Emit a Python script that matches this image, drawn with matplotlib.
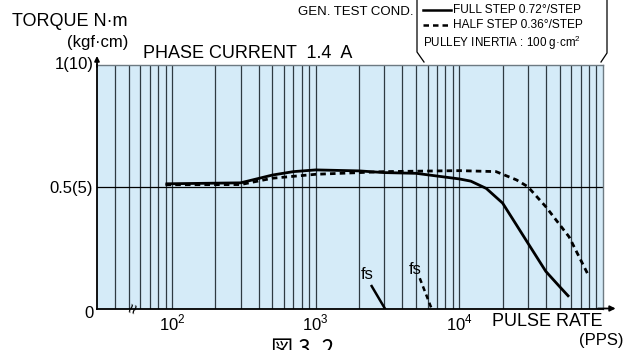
import matplotlib
matplotlib.use("Agg")
import matplotlib.pyplot as plt
from matplotlib.lines import Line2D

# data
full_f = [90, 300, 500, 700, 1000, 2000, 3000, 5000, 10000, 12000, 15400,
          20000, 25000, 30000, 40000, 50000, 58000]
full_t = [0.511, 0.515, 0.547, 0.561, 0.568, 0.564, 0.557, 0.554, 0.531, 0.522,
          0.492, 0.432, 0.342, 0.268, 0.152, 0.089, 0.048]

half_f = [90, 300, 500, 1000, 2000, 3000, 10000, 18000, 25000, 30000, 40000,
          58000, 79000]
half_t = [0.507, 0.508, 0.534, 0.550, 0.557, 0.561, 0.565, 0.561, 0.527,
          0.499, 0.417, 0.294, 0.137]

fs_full_f = [2450, 3030]
fs_full_t = [0.092, 0.0]
fs_half_f = [5300, 6400]
fs_half_t = [0.124, 0.0]

grid_f = [m * 10 ** e for e in range(1, 5) for m in range(1, 10)]
grid_f = [g for g in grid_f if 30 < g < 100000]
xtick_vals = [100, 1000, 10000]
xtick_labels = ["$10^2$", "$10^3$", "$10^4$"]

W, H = 629, 350


def fx(x):
    return x / W


def fy(y):
    return 1 - y / H


plt.rcParams["font.family"] = ["Liberation Sans", "DejaVu Sans"]
plt.rcParams["mathtext.fontset"] = "custom"
plt.rcParams["mathtext.rm"] = "Liberation Sans"

fig = plt.figure(figsize=(6.29, 3.5), dpi=100)
ax = fig.add_axes([fx(97), fy(308.5), fx(603) - fx(97), fy(64.5) - fy(308.5)])
ax.set_facecolor("#d5ebf8")
ax.set_xscale("log")
ax.set_xlim(30, 100000)
ax.set_ylim(0, 1)

for g in grid_f:
    ax.axvline(g, color="#2e3a42", lw=0.9, zorder=1)
ax.axhline(0.5, color="black", lw=0.9, zorder=1)

ax.plot(full_f, full_t, color="black", lw=2.0, solid_capstyle="butt", zorder=3)
ax.plot(half_f, half_t, color="black", lw=2.0, linestyle=(0, (2.0, 1.5)), zorder=3)
ax.plot(fs_full_f, fs_full_t, color="black", lw=1.8, zorder=3)
ax.plot(fs_half_f, fs_half_t, color="black", lw=1.8, linestyle=(0, (2.0, 1.5)), zorder=3)
ax.text(2280, 0.11, "fs", fontsize=12, ha="center", va="bottom")
ax.text(4950, 0.13, "fs", fontsize=12, ha="center", va="bottom")

ax.set_xticks(xtick_vals)
ax.set_xticklabels(xtick_labels, fontsize=12)
ax.minorticks_off()
ax.set_yticks([])
ax.tick_params(axis="x", length=0, pad=3)

for s in ["top", "right"]:
    ax.spines[s].set_color("#6d7a82")
    ax.spines[s].set_linewidth(1.0)
for s in ["left", "bottom"]:
    ax.spines[s].set_color("black")
    ax.spines[s].set_linewidth(1.3)

# axis arrows
ax.annotate("", xy=(1.025, 0), xytext=(0.99, 0), xycoords="axes fraction",
            arrowprops=dict(arrowstyle="-|>", color="black", lw=1.3,
                            mutation_scale=8, shrinkA=0, shrinkB=0))
ax.annotate("", xy=(0, 1.035), xytext=(0, 0.99), xycoords="axes fraction",
            arrowprops=dict(arrowstyle="-|>", color="black", lw=1.3,
                            mutation_scale=7, shrinkA=0, shrinkB=0))

# axis break mark
fig.text(fx(135), fy(309), "≈", fontsize=13, rotation=72, ha="center", va="center")

# y labels
fig.text(fx(94), fy(64), "1(10)", fontsize=12, ha="right", va="center")
fig.text(fx(93), fy(188), "0.5(5)", fontsize=12, ha="right", va="center")
fig.text(fx(94), fy(313), "0", fontsize=12, ha="right", va="center")
fig.text(fx(12), fy(21), "TORQUE N·m", fontsize=13, ha="left", va="center")
fig.text(fx(128), fy(42), "(kgf·cm)", fontsize=12, ha="right", va="center")
fig.text(fx(143), fy(53), "PHASE CURRENT  1.4  A", fontsize=13, ha="left", va="center")

# x labels
fig.text(fx(602), fy(322), "PULSE RATE", fontsize=13, ha="right", va="center")
fig.text(fx(624), fy(341), "(PPS)", fontsize=12, ha="right", va="center")
fig.text(fx(271), fy(338), "図 3. 2", fontsize=16, ha="left", va="top",
         family=["Noto Sans CJK JP", "DejaVu Sans"])

# legend block
fig.text(fx(413), fy(12), "GEN. TEST COND.", fontsize=9.5, ha="right", va="center")
fig.text(fx(453), fy(10), "FULL STEP 0.72°/STEP", fontsize=8.6, ha="left", va="center")
fig.text(fx(453), fy(25), "HALF STEP 0.36°/STEP", fontsize=8.6, ha="left", va="center")
fig.text(fx(423), fy(43), "PULLEY INERTIA : 100 g·cm$^2$", fontsize=8.4,
         ha="left", va="center")
fig.add_artist(Line2D([fx(423), fx(451)], [fy(10), fy(10)], color="black", lw=1.8))
fig.add_artist(Line2D([fx(423), fx(451)], [fy(25), fy(25)], color="black", lw=1.8,
                      linestyle=(0, (2.2, 1.6))))
fig.add_artist(Line2D([fx(417), fx(417), fx(424)], [fy(-2), fy(52), fy(62)],
                      color="black", lw=0.9))
fig.add_artist(Line2D([fx(607), fx(607), fx(601)], [fy(-2), fy(53), fy(62)],
                      color="black", lw=0.9))

fig.savefig("out.png", dpi=100)
